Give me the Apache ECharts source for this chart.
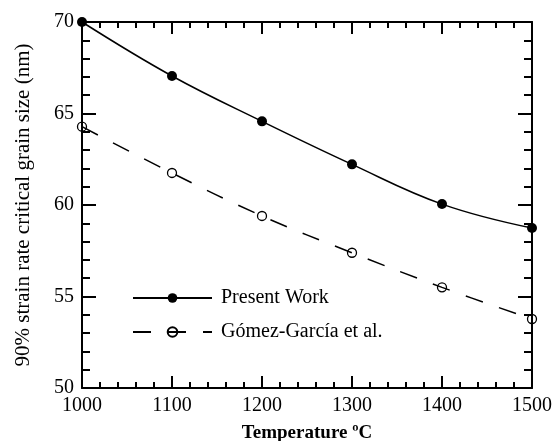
<!DOCTYPE html>
<html><head><meta charset="utf-8">
<script src="https://cdn.jsdelivr.net/npm/echarts@6/dist/echarts.min.js"></script>
<style>html,body{margin:0;padding:0;background:#fff}#c{width:559px;height:441px}</style>
</head><body><div id="c"></div>
<script>
const temps = [1000, 1100, 1200, 1300, 1400, 1500];
const presentWork = [70.0, 67.05, 64.57, 62.22, 60.05, 58.74];
const gomezGarcia = [64.28, 61.75, 59.40, 57.39, 55.5, 53.77];
const seriesNames = ['Present Work', 'Gómez-García et al.'];
const xTitle = 'Temperature ºC';
const yTitle = '90% strain rate critical grain size (nm)';

const font = 'Liberation Serif';
const chart = echarts.init(document.getElementById('c'), null, {renderer: 'canvas'});
const axisCommon = {
  axisLine: {show: true, lineStyle: {color: '#000', width: 2}},
  splitLine: {show: false},
  minorSplitLine: {show: false}
};
chart.setOption({
  animation: false,
  backgroundColor: '#fff',
  grid: {left: 82, right: 27, top: 22, bottom: 53, containLabel: false, outerBoundsMode: 'none'},
  legend: {
    orient: 'vertical', left: 127, top: 283, itemGap: 14,
    itemWidth: 79, itemHeight: 12,
    textStyle: {fontFamily: font, fontSize: 20, color: '#000', padding: [0, 0, 0, 4]},
    data: seriesNames
  },
  xAxis: [
    Object.assign({}, axisCommon, {
      type: 'value', min: 1000, max: 1500, interval: 100, position: 'bottom',
      name: xTitle, nameLocation: 'middle', nameGap: 36,
      nameTextStyle: {fontFamily: font, fontSize: 19, fontWeight: 'bold', color: '#000'},
      axisTick: {inside: true, length: 12, lineStyle: {width: 2, color: '#000'}},
      minorTick: {show: true, splitNumber: 5, length: 6, lineStyle: {width: 2, color: '#000'}},
      axisLabel: {fontFamily: font, fontSize: 20, color: '#000', margin: 8, formatter: v => String(v)}
    }),
    Object.assign({}, axisCommon, {
      type: 'value', min: 1000, max: 1500, interval: 100, position: 'top',
      axisTick: {inside: true, length: 12, lineStyle: {width: 2, color: '#000'}},
      minorTick: {show: true, splitNumber: 5, length: 6, lineStyle: {width: 2, color: '#000'}},
      axisLabel: {show: false}
    })
  ],
  yAxis: [
    Object.assign({}, axisCommon, {
      type: 'value', min: 50, max: 70, interval: 5, position: 'left',
      name: yTitle, nameLocation: 'middle', nameGap: 48,
      nameTextStyle: {fontFamily: font, fontSize: 21, color: '#000'},
      axisTick: {inside: true, length: 14, lineStyle: {width: 2, color: '#000'}},
      minorTick: {show: true, splitNumber: 5, length: 8, lineStyle: {width: 2, color: '#000'}},
      axisLabel: {fontFamily: font, fontSize: 20, color: '#000', margin: 8}
    }),
    Object.assign({}, axisCommon, {
      type: 'value', min: 50, max: 70, interval: 5, position: 'right',
      axisTick: {inside: true, length: 14, lineStyle: {width: 2, color: '#000'}},
      minorTick: {show: true, splitNumber: 5, length: 8, lineStyle: {width: 2, color: '#000'}},
      axisLabel: {show: false}
    })
  ],
  series: [
    {
      name: seriesNames[0], type: 'line', smooth: 0.4,
      data: temps.map((t, i) => [t, presentWork[i]]),
      symbol: 'circle', symbolSize: 10,
      itemStyle: {color: '#000'},
      lineStyle: {color: '#000', width: 1.5},
      clip: false, z: 5
    },
    {
      name: seriesNames[1], type: 'line', smooth: 0.4,
      data: temps.map((t, i) => [t, gomezGarcia[i]]),
      symbol: 'circle', symbolSize: 9,
      itemStyle: {color: 'rgba(0,0,0,0)', borderColor: '#000', borderWidth: 1.3},
      lineStyle: {color: '#000', width: 1.5, type: [18, 17]},
      clip: false, z: 5
    }
  ]
});
</script></body></html>
